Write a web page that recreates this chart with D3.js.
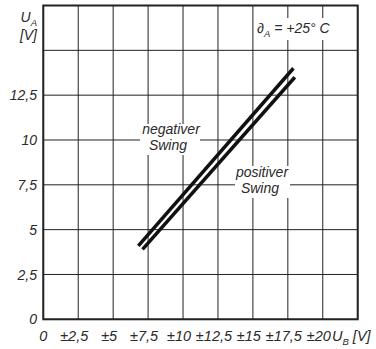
<!DOCTYPE html>
<html>
<head>
<meta charset="utf-8">
<script src="https://cdn.jsdelivr.net/npm/d3@7/dist/d3.min.js"></script>
<style>
  html, body { margin: 0; padding: 0; background: #fff; }
  svg text { font-family: "Liberation Sans", Arial, sans-serif; font-style: italic; fill: #2a2a2a; }
</style>
</head>
<body>
<svg id="chart" width="376" height="349"></svg>
<script>
// ---- data ----
const xTicks = [0, 2.5, 5, 7.5, 10, 12.5, 15, 17.5, 20, 22.5];
const xTickLabels = ["0", "±2,5", "±5", "±7,5", "±10", "±12,5", "±15", "±17,5", "±20"];
const yTicks = [0, 2.5, 5, 7.5, 10, 12.5, 15, 17.5];
const yTickLabels = ["0", "2,5", "5", "7,5", "10", "12,5"];
const negativerUB = [6.8, 17.9];
const negativerUA = [4.1, 14.0];
const positiverUB = [7.1, 18.0];
const positiverUA = [3.9, 13.5];

const svg = d3.select("#chart");
const x = d3.scaleLinear().domain([0, 22.5]).range([43.3, 357.7]);
const y = d3.scaleLinear().domain([0, 17.5]).range([319.3, 5.5]);

// grid
const grid = svg.append("g");
grid.selectAll("line.v").data(xTicks).join("line")
  .attr("x1", d => x(d)).attr("x2", d => x(d))
  .attr("y1", y(0)).attr("y2", y(17.5))
  .attr("stroke", "#222").attr("stroke-width", 1);
grid.selectAll("line.h").data(yTicks).join("line")
  .attr("y1", d => y(d)).attr("y2", d => y(d))
  .attr("x1", x(0)).attr("x2", x(22.5))
  .attr("stroke", "#222").attr("stroke-width", 1);

// frame
svg.append("rect")
  .attr("x", x(0)).attr("y", y(17.5))
  .attr("width", x(22.5) - x(0)).attr("height", y(0) - y(17.5))
  .attr("fill", "none").attr("stroke", "#222").attr("stroke-width", 2);

// curves
const line = d3.line().x(d => x(d[0])).y(d => y(d[1]));
const negData = negativerUB.map((v, i) => [v, negativerUA[i]]);
const posData = positiverUB.map((v, i) => [v, positiverUA[i]]);
[negData, posData].forEach(dat => {
  svg.append("path").datum(dat).attr("d", line)
    .attr("fill", "none").attr("stroke", "#111").attr("stroke-width", 3.5);
});

// y tick labels
svg.append("g").selectAll("text").data(yTickLabels).join("text")
  .attr("x", 37).attr("y", (d, i) => y(yTicks[i]))
  .attr("dy", "0.36em").attr("text-anchor", "end")
  .attr("font-size", 14).text(d => d);

// x tick labels
svg.append("g").selectAll("text").data(xTickLabels).join("text")
  .attr("x", (d, i) => x(xTicks[i]) - (i === 0 ? 0 : 4)).attr("y", 341)
  .attr("text-anchor", "middle")
  .attr("font-size", 14.5).text(d => d);

// axis titles
const ub = svg.append("text").attr("x", 332).attr("y", 341).attr("font-size", 14.5);
ub.append("tspan").text("U");
ub.append("tspan").attr("font-size", 9.5).attr("dy", 4).text("B");
ub.append("tspan").attr("dy", -4).text(" [V]");

const ua = svg.append("text").attr("x", 37).attr("y", 22).attr("text-anchor", "end").attr("font-size", 14);
ua.append("tspan").text("U");
ua.append("tspan").attr("font-size", 9.5).attr("dy", 4).text("A");
svg.append("text").attr("x", 37).attr("y", 40).attr("text-anchor", "end").attr("font-size", 14).text("[V]");

// annotations with white backgrounds
function box(x0, y0, w, h) {
  svg.append("rect").attr("x", x0).attr("y", y0).attr("width", w).attr("height", h).attr("fill", "#fff");
}
box(255, 18, 77, 22);
box(140, 124, 60, 31);
box(235, 166, 55, 32);

const t = svg.append("text").attr("x", 257).attr("y", 33).attr("font-size", 14);
t.append("tspan").text("∂");
t.append("tspan").attr("font-size", 9.5).attr("dy", 4).text("A");
t.append("tspan").attr("dy", -4).text(" = +25° C");

svg.append("text").attr("x", 171).attr("y", 134).attr("text-anchor", "middle").attr("font-size", 14).text("negativer");
svg.append("text").attr("x", 168).attr("y", 150).attr("text-anchor", "middle").attr("font-size", 14).text("Swing");
svg.append("text").attr("x", 262).attr("y", 177).attr("text-anchor", "middle").attr("font-size", 14).text("positiver");
svg.append("text").attr("x", 260).attr("y", 193).attr("text-anchor", "middle").attr("font-size", 14).text("Swing");
</script>
</body>
</html>
